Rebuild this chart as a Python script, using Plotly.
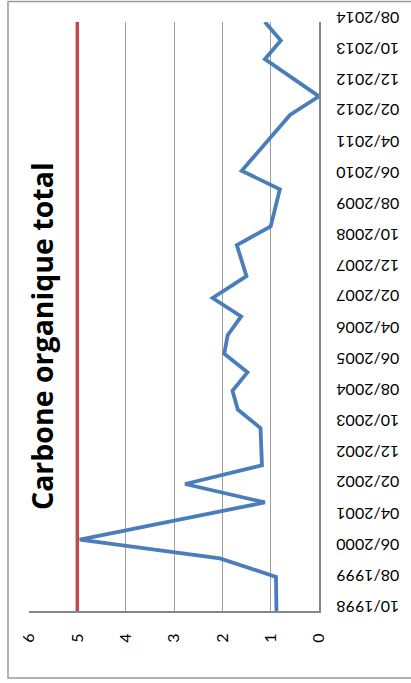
import plotly.graph_objects as go

# Sampling dates (first of the month) and measured total organic carbon (mg/L)
sample_dates = [
    "1998-10-01", "1999-09-01", "2000-03-01", "2000-09-01", "2001-09-01",
    "2002-03-01", "2002-09-01", "2003-09-01", "2004-03-01", "2004-09-01",
    "2005-03-01", "2005-09-01", "2006-03-01", "2006-09-01", "2007-03-01",
    "2007-10-01", "2008-08-01", "2009-02-01", "2010-02-01", "2010-08-01",
    "2012-02-01", "2012-08-01", "2013-08-01", "2014-02-01", "2014-08-01",
]
cot_values = [
    0.88, 0.89, 2.05, 4.95, 1.12,
    2.77, 1.18, 1.21, 1.68, 1.79,
    1.48, 1.96, 1.89, 1.61, 2.20,
    1.50, 1.70, 1.00, 0.81, 1.60,
    0.60, 0.00, 1.12, 0.79, 1.12,
]

# Regulatory limit drawn across the whole period
limit_value = 5
limit_dates = [sample_dates[0], sample_dates[-1]]

title_text = "Carbone organique total"
value_ticks = [0, 1, 2, 3, 4, 5, 6]

W, H = 411, 683
L, R, T, B = 29, 92, 22, 72
plot_w = W - L - R
plot_h = H - T - B


def px_to_paper_x(px):
    return (px - L) / plot_w


def px_to_paper_y(py):
    return (H - B - py) / plot_h


fig = go.Figure()

fig.add_trace(go.Scatter(
    x=[limit_value, limit_value], y=limit_dates, mode="lines",
    line=dict(color="#BE4B48", width=3.5), showlegend=False, hoverinfo="skip",
))
fig.add_trace(go.Scatter(
    x=cot_values, y=sample_dates, mode="lines",
    line=dict(color="#4A7EBB", width=3.8), showlegend=False,
))

font_family = "Lato, Open Sans, sans-serif"

fig.update_layout(
    width=W, height=H, autosize=False,
    margin=dict(l=L, r=R, t=T, b=B, pad=0),
    paper_bgcolor="white", plot_bgcolor="white",
    font=dict(family=font_family, color="#000000"),
    xaxis=dict(
        range=[6, 0], tickvals=value_ticks, ticktext=[str(v) for v in value_ticks],
        showgrid=True, gridcolor="#9E9E9E", gridwidth=1,
        zeroline=False, showline=True, linecolor="#868686", linewidth=2,
        ticks="", tickangle=-90, tickfont=dict(size=16, family=font_family),
        ticklabelstandoff=14, automargin=False, fixedrange=True,
    ),
    yaxis=dict(
        type="date", range=[sample_dates[0], sample_dates[-1]],
        side="right", tick0="1998-10-01", dtick="M10", tickformat="%m/%Y",
        showgrid=False, zeroline=False, showline=True, linecolor="#868686",
        linewidth=2, ticks="", tickangle=180,
        tickfont=dict(size=16, family=font_family),
        ticklabelstandoff=75, automargin=False, fixedrange=True,
    ),
    annotations=[dict(
        text="<b>" + title_text + "</b>", textangle=-90, showarrow=False,
        xref="paper", yref="paper",
        x=px_to_paper_x(42), y=px_to_paper_y(336),
        xanchor="center", yanchor="middle",
        font=dict(size=28.5, family="Open Sans, sans-serif", color="#000000"),
    )],
    shapes=[dict(
        type="rect", xref="paper", yref="paper", layer="below",
        x0=px_to_paper_x(8), x1=px_to_paper_x(416),
        y0=px_to_paper_y(678), y1=px_to_paper_y(1.5),
        line=dict(color="#9A9A9A", width=1.5), fillcolor="rgba(0,0,0,0)",
    )],
)

fig.write_html("out.html", config={"displayModeBar": False})
